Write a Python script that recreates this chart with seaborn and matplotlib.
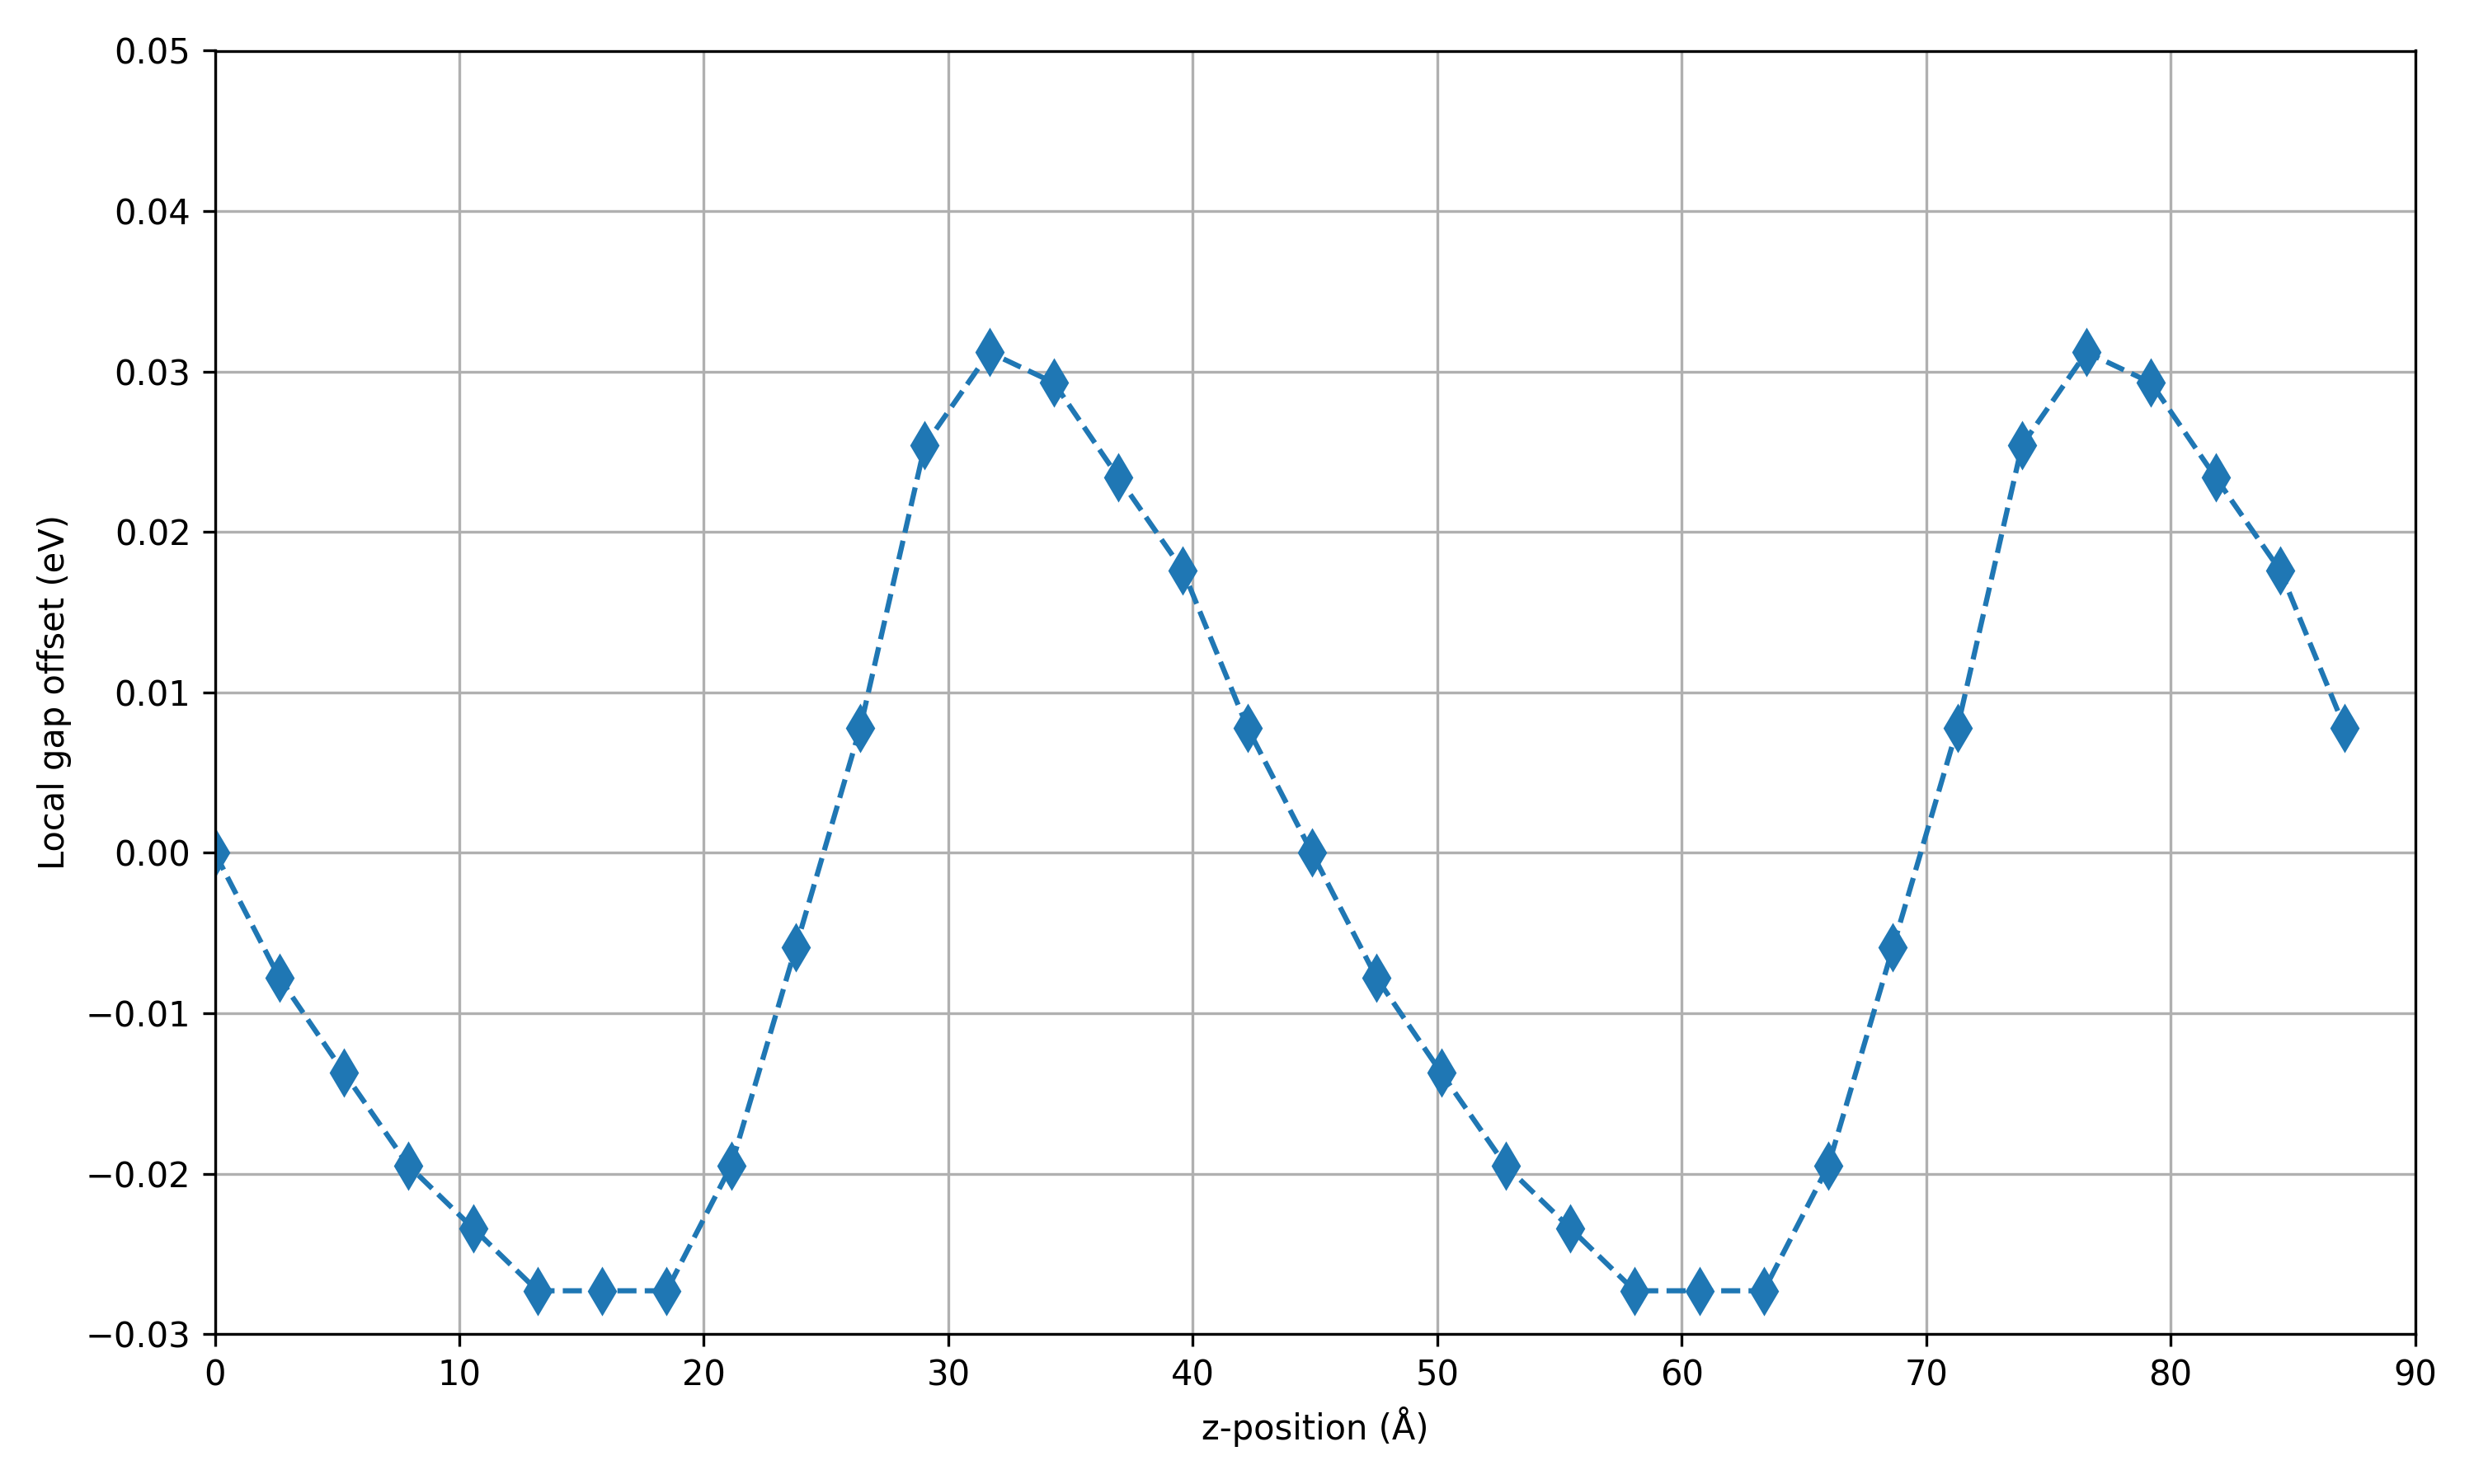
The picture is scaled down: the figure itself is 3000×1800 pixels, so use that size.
import matplotlib
matplotlib.use("Agg")
import matplotlib.pyplot as plt
import seaborn as sns
import numpy as np
import pandas as pd

# z positions (Angstrom) and local gap offset (eV)
z_pos = [0.0, 2.64, 5.28, 7.92, 10.56, 13.2, 15.84, 18.48, 21.12, 23.76, 26.4,
         29.04, 31.68, 34.32, 36.96, 39.6, 42.24, 44.88, 47.52, 50.16, 52.8,
         55.44, 58.08, 60.72, 63.36, 66.0, 68.64, 71.28, 73.92, 76.56, 79.2,
         81.84, 84.48, 87.12]
gap_offset = [0.0, -0.0078, -0.0137, -0.0195, -0.0234, -0.0273, -0.0273, -0.0273,
              -0.0195, -0.0059, 0.0078, 0.0254, 0.0312, 0.0293, 0.0234, 0.0176,
              0.0078, 0.0, -0.0078, -0.0137, -0.0195, -0.0234, -0.0273, -0.0273,
              -0.0273, -0.0195, -0.0059, 0.0078, 0.0254, 0.0312, 0.0293, 0.0234,
              0.0176, 0.0078]

df = pd.DataFrame({"z": z_pos, "offset": gap_offset})

fig, ax = plt.subplots(figsize=(10, 6), dpi=300)
sns.lineplot(data=df, x="z", y="offset", ax=ax, color="#1f77b4",
             linestyle="--", marker="d", markersize=9, markeredgecolor="#1f77b4")
ax.set_xlim(0, 90)
ax.set_ylim(-0.03, 0.05)
ax.set_yticks(np.arange(-0.03, 0.0501, 0.01))
ax.grid(True)
ax.set_xlabel("z-position (Å)")
ax.set_ylabel("Local gap offset (eV)")
plt.tight_layout()
plt.savefig("out.png")
